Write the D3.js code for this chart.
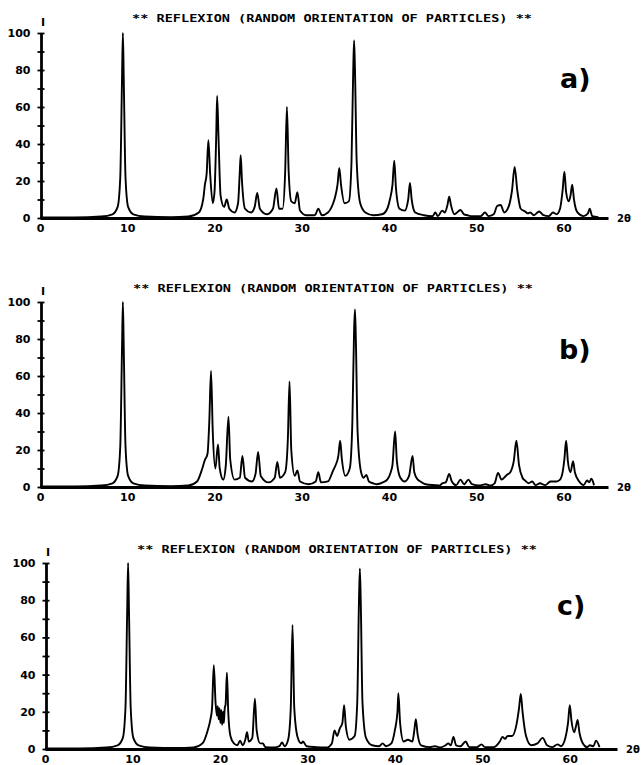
<!DOCTYPE html>
<html>
<head>
<meta charset="utf-8">
<script src="https://cdn.jsdelivr.net/npm/d3@7"></script>
<style>
  body { margin: 0; background: #fff; }
  svg { display: block; }
  .curve { fill: none; stroke: #000; stroke-width: 1.9; stroke-linejoin: round; }
  .axis path, .axis line { stroke: #000; }
  .axis text { font-family: "DejaVu Sans", sans-serif; font-weight: bold; font-size: 11px; fill: #000; }
  .lbl { font-family: "DejaVu Sans", sans-serif; font-weight: bold; fill: #000; }
</style>
</head>
<body>
<div id="chart"></div>
<script>
//
// Diffractograms: [2 theta, relative intensity]
//

var patternA = [[0,0.3],[4,0.3],[7,0.8],[8.3,2],[8.9,6],[9.2,22],[9.4,75],[9.5,100],[9.6,75],[9.8,22],[10.1,6],[10.7,2],[12,0.8],[15,0.5],[17,0.8],
  [18.2,3],[18.7,10],[18.9,18],[19.1,24],[19.3,42],[19.5,24],[19.8,8],[20.0,14],[20.2,45],[20.3,66],[20.45,45],[20.7,12],[21.1,6],[21.4,10],[21.7,5],
  [22.3,3],[22.7,8],[22.9,25],[23.0,34],[23.15,20],[23.5,5],[24.2,3],[24.6,6],[24.9,13.5],[25.2,5],[26,2],[26.7,5],[27.1,16],[27.4,5],[27.8,5],
  [28.1,25],[28.3,60],[28.5,25],[28.8,9],[29.2,8],[29.5,14],[29.8,4],[30.5,1.5],[31.5,1.5],[31.9,5],[32.3,1.5],[33,3],[33.6,8],[33.8,11],[34.1,18],
  [34.3,27],[34.5,18],[34.9,8],[35.4,9],[35.7,30],[35.9,80],[36.0,96],[36.1,80],[36.3,30],[36.7,8],[37.3,3],[38.2,1.5],[39.2,2],[39.8,5],[40.1,10],
  [40.4,18],[40.6,31],[40.8,16],[41.2,5],[41.8,4],[42.2,10],[42.4,19],[42.6,10],[43.0,3],[44,1.5],[45,1],[45.3,3],[45.6,1],[46.1,4],[46.4,3],
  [46.7,7],[46.9,11.5],[47.1,7],[47.5,2],[48.2,4.3],[48.6,2],[49,1.5],[49.5,1],[50.5,1],[51,3],[51.4,1],[52,2],[52.4,6.5],[52.8,7],[53.2,3],
  [53.7,6],[54.1,15],[54.4,27.6],[54.7,15],[55.1,5],[55.6,3.5],[55.9,2.5],[56.2,3],[56.6,1.5],[57.2,3.5],[57.7,1.5],[58.3,1],[58.8,3],[59.2,2],
  [59.6,5],[59.9,15],[60.1,25],[60.3,14],[60.6,9],[60.8,12],[61.0,18],[61.2,10],[61.6,3],[62.3,1],[62.8,2.5],[63.0,5],[63.3,1],[64,0.5]];

var patternB = [[0,0.3],[4,0.3],[7,0.8],[8.3,2],[8.9,6],[9.2,22],[9.4,75],[9.5,100],[9.6,75],[9.8,22],[10.1,6],[10.7,2],[12,0.8],[15,0.5],[17,0.8],
  [18,3],[18.6,10],[18.9,14.6],[19.2,18],[19.4,35],[19.6,62.7],[19.8,30],[20.1,10],[20.4,23],[20.6,10],[21.0,4],[21.3,12],[21.6,38],[21.8,15],
  [22.3,4],[22.9,5],[23.2,16.8],[23.5,5],[24.3,3],[24.7,7],[25.0,19],[25.3,6],[26.2,2.5],[26.9,5],[27.2,13.5],[27.5,5],[28.1,8],[28.4,25],[28.6,57],
  [28.8,20],[29.2,6],[29.5,9],[29.8,3],[30.8,1.5],[31.6,3],[31.9,8],[32.2,2.5],[33.0,3],[33.6,9],[33.9,12],[34.2,17],[34.4,25],[34.6,15],[35.0,6],
  [35.5,10],[35.8,35],[36.0,85],[36.1,96],[36.2,80],[36.4,30],[36.8,8],[37.1,5],[37.4,6.5],[37.7,3],[38.2,2],[38.6,1.5],[39.3,2.5],[39.8,4],[40.2,8],
  [40.4,12],[40.7,30],[40.9,14],[41.3,5],[41.8,3],[42.3,6],[42.7,16.8],[42.9,8],[43.3,4],[43.6,3],[44.2,1.5],[45.3,1],[45.8,0.8],[46.1,2],[46.5,2.5],
  [46.9,7],[47.2,3],[47.7,1],[48.2,4],[48.6,1.5],[49.1,4],[49.5,1.5],[50.3,0.8],[51.1,1.5],[51.6,0.8],[52.1,2],[52.5,7.6],[52.9,4],[53.5,6.5],
  [53.9,8],[54.3,14],[54.6,25],[54.9,12],[55.3,5],[55.6,3.5],[56.0,2],[56.4,3],[56.8,1],[57.3,2],[57.9,1],[58.5,3],[59.2,3],[59.6,4],[59.9,8],
  [60.1,15],[60.3,25],[60.5,14],[60.8,8],[61.1,14],[61.3,8],[61.8,3],[62.3,1],[62.7,3.5],[62.95,2.5],[63.2,4.5],[63.5,1]];

var patternC = [[0,0.3],[4,0.3],[7,0.8],[8.3,2],[8.9,6],[9.2,22],[9.4,75],[9.5,100],[9.6,75],[9.8,22],[10.1,6],[10.7,2],[12,0.8],[15,0.5],[17,0.8],
  [18.0,3],[18.6,10],[18.9,15.6],[19.1,22],[19.3,45],[19.5,25],[19.65,18],[19.75,23],[19.85,16],[19.95,22],[20.05,14],[20.15,21],[20.25,13],
  [20.35,20],[20.45,14],[20.55,22],[20.65,24],[20.8,41],[20.95,20],[21.2,7],[21.6,3],[22.0,2],[22.3,4.5],[22.6,2],[22.9,5],[23.1,9],[23.3,4],
  [23.7,6],[24.0,27],[24.2,10],[24.6,3],[24.9,3],[25.2,1],[26.2,0.8],[26.8,1.5],[27.1,3.5],[27.4,1.5],[27.8,5],[28.1,22],[28.3,66.7],[28.5,22],
  [28.9,6],[29.3,3],[29.5,4],[29.9,1.5],[31,1],[32.2,0.8],[32.8,3],[33.1,10],[33.4,7],[33.7,11],[34.0,14],[34.2,23.6],[34.4,12],[34.8,5],[35.4,7],
  [35.7,25],[35.9,80],[36.0,97],[36.1,80],[36.3,25],[36.7,6],[37.4,2],[38.2,1.5],[38.6,3],[39.0,1.5],[39.6,3],[40.0,10],[40.3,20],[40.4,30],
  [40.6,14],[41.0,4],[41.5,5],[42.0,4],[42.2,9],[42.4,16],[42.6,8],[43.0,2],[44,1],[44.6,1.5],[45.2,0.8],[45.8,2],[46.1,3],[46.4,2],[46.7,6.5],
  [47.0,2],[47.5,1.5],[48.1,4],[48.5,1],[49.4,1],[49.9,2.5],[50.3,1],[51.3,1],[52.0,4],[52.3,6.5],[52.6,5.5],[52.9,7],[53.4,7],[53.9,13],[54.2,22],
  [54.4,29.6],[54.6,20],[55.0,7],[55.6,2],[56.3,3],[56.9,6],[57.4,2],[58.0,1],[58.6,2.5],[59.0,1.5],[59.5,6],[59.8,14],[60.0,23.6],[60.2,15],
  [60.5,9],[60.7,12],[60.9,15.6],[61.1,9],[61.5,3],[62.0,1],[62.3,2],[62.7,1.5],[63.0,4.5],[63.4,1]];

var panelNames = ["a)", "b)", "c)"];
var xTicks = [0, 10, 20, 30, 40, 50, 60];
var yLabels = [0, 20, 40, 60, 80, 100];
var yCrosses = [0, 10, 20, 30, 40, 50, 60, 70, 80, 90, 100];
var title = "** REFLEXION (RANDOM ORIENTATION OF PARTICLES) **";

//
// Placement of each panel on the page (pixels)
//

var panels = [
  {data: patternA, left: 40, right: 608, xMax: 65.1, top: 33, bottom: 218, tx: 332, ty: 22, lx: 560, ly: 88},
  {data: patternB, left: 40, right: 608, xMax: 65.1, top: 302, bottom: 487, tx: 333, ty: 292, lx: 559, ly: 359},
  {data: patternC, left: 45, right: 617, xMax: 65.4, top: 563, bottom: 749, tx: 337, ty: 553, lx: 557, ly: 615}
];

var svg = d3.select("#chart").append("svg")
  .attr("width", 642)
  .attr("height", 765);

panels.forEach(function(p, i) {
  var x = d3.scaleLinear().domain([0, p.xMax]).range([p.left, p.right]);
  var y = d3.scaleLinear().domain([0, 100]).range([p.bottom, p.top]);

  var g = svg.append("g");

  // x axis: plain thick line with labels
  g.append("g")
    .attr("class", "axis")
    .attr("transform", "translate(0," + p.bottom + ")")
    .call(d3.axisBottom(x).tickValues(xTicks).tickSize(0).tickPadding(6))
    .call(function(a) { a.select(".domain").attr("stroke-width", 2.8); });

  // y axis: crosses every 10, labels every 20
  g.append("g")
    .attr("class", "axis")
    .attr("transform", "translate(" + (p.left + 1) + ",0)")
    .call(d3.axisLeft(y).tickValues(yCrosses).tickSize(3.5).tickSizeOuter(0).tickPadding(7)
      .tickFormat(function(d) { return yLabels.indexOf(d) >= 0 ? d : ""; }))
    .call(function(a) {
      a.select(".domain").attr("stroke-width", 2.8);
      a.selectAll(".tick line").attr("x1", 3.5).attr("stroke-width", 1.8);
    });

  g.append("path")
    .datum(p.data)
    .attr("class", "curve")
    .attr("d", d3.line()
      .x(function(d) { return x(d[0]); })
      .y(function(d) { return y(d[1]); })
      .curve(d3.curveMonotoneX));

  g.append("text")
    .attr("class", "lbl")
    .attr("x", p.left + 3)
    .attr("y", p.top - 7)
    .attr("text-anchor", "middle")
    .style("font-size", "11px")
    .text("I");

  g.append("text")
    .attr("class", "lbl")
    .attr("x", p.tx - 200)
    .attr("y", p.ty)
    .attr("textLength", 400)
    .attr("lengthAdjust", "spacingAndGlyphs")
    .style("font-size", "10.5px")
    .style("font-family", "'DejaVu Sans Mono', monospace")
    .text(title);

  g.append("text")
    .attr("class", "lbl")
    .attr("x", p.right + 9)
    .attr("y", p.bottom + 4)
    .style("font-size", "10px")
    .text("2θ");

  g.append("text")
    .attr("class", "lbl")
    .attr("x", p.lx)
    .attr("y", p.ly)
    .style("font-size", "27px")
    .text(panelNames[i]);
});
</script>
</body>
</html>
